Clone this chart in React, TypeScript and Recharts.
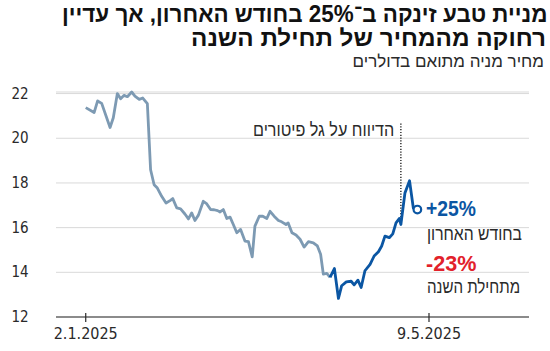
import React, { useLayoutEffect, useRef, useState } from "react";
import {
  LineChart,
  Line,
  XAxis,
  YAxis,
  CartesianGrid,
  ReferenceLine,
} from "recharts";

// days since 2.1.2025
const days: number[] = [
  0, 3.1, 4.4, 5.9, 9.0, 10.2, 11.7, 12.9, 14.2, 15.4, 17.0, 18.2, 19.8, 21.1,
  22.8, 24.0, 25.3, 26.5, 28.1, 29.7, 31.2, 32.2, 33.7, 35.1, 36.7, 38.0, 39.2,
  40.4, 41.7, 43.5, 44.8, 46.2, 47.5, 48.8, 49.7, 50.9, 52.2, 53.4, 54.6, 55.9,
  57.3, 58.9, 60.2, 61.6, 62.6, 64.2, 65.5, 67.0, 68.2, 69.7, 71.3, 72.5, 74.1,
  74.9, 76.3, 77.8, 79.3, 80.8, 82.4, 84.2, 85.7, 86.9, 87.9, 89.2, 90.4, 92.0,
  93.5, 94.7, 96.4, 98.2, 99.3, 100.7, 101.9, 103.3, 105.2, 106.7, 108.3, 109.5,
  110.7, 112.3, 113.6, 114.8, 116.0, 116.6, 118.1, 119.8, 121.2, 122.7,
];
const prices: number[] = [
  21.37, 21.15, 21.67, 21.56, 20.48, 20.92, 22.0, 21.77, 21.92, 21.86, 22.07,
  21.89, 21.74, 21.8, 21.55, 18.59, 17.92, 17.77, 17.4, 17.1, 17.21, 17.3, 16.88,
  16.84, 16.61, 16.39, 16.66, 16.32, 16.56, 17.18, 17.06, 16.81, 16.8, 16.76,
  16.7, 16.81, 16.41, 16.47, 16.14, 15.77, 15.92, 15.4, 15.37, 14.69, 16.07,
  16.51, 16.51, 16.41, 16.73, 16.51, 16.32, 16.26, 16.14, 16.21, 15.77, 15.67,
  15.48, 15.13, 15.37, 15.32, 15.18, 14.81, 13.92, 13.95, 13.77, 14.17, 12.83,
  13.4, 13.57, 13.6, 13.44, 13.65, 13.32, 14.07, 14.36, 14.73, 14.92, 15.18,
  15.62, 15.55, 15.72, 16.21, 16.41, 16.14, 17.55, 18.1, 16.88, 16.81,
];
// index where the "last month" (blue) segment begins
const splitIndex = 64;
const eventDay = 116.6;
const eventTop = 20.66;
const eventPrice = 16.14;

const yTicks = [12, 14, 16, 18, 20, 22];
const xTicks = [0, 127];
const xTickLabels: Record<number, string> = { 0: "2.1.2025", 127: "9.5.2025" };

const title1 = "מניית טבע זינקה ב־25% בחודש האחרון, אך עדיין";
const title2 = "רחוקה מהמחיר של תחילת השנה";
const subtitle = "מחיר מניה מתואם בדולרים";
const eventLabel = "הדיווח על גל פיטורים";
const monthChange = "+25%";
const monthLabel = "בחודש האחרון";
const yearChange = "-23%";
const yearLabel = "מתחילת השנה";

const data = days.map((d, i) => ({
  day: d,
  past: i <= splitIndex ? prices[i] : null,
  recent: i >= splitIndex ? prices[i] : null,
}));

const FONT = "'Liberation Sans Narrow','DejaVu Sans Condensed','Roboto Condensed',sans-serif";
const HFONT = "'Liberation Sans','DejaVu Sans',sans-serif";
const GREY = "#7d9ab3";
const BLUE = "#0b56a3";
const RED = "#e2212b";
const TEXT = "#2a2a2a";

const YTick = (props: any) => {
  const { y, payload } = props;
  return (
    <text x={20} y={y + 5} textAnchor="middle" fontSize={15} fill={TEXT} fontFamily={FONT}>
      {payload.value}
    </text>
  );
};

const XTick = (props: any) => {
  const { x, y, payload } = props;
  return (
    <g>
      <line x1={x} x2={x} y1={y - 4} y2={y + 5} stroke={TEXT} strokeWidth={1.2} />
      <text x={x} y={y + 22} textAnchor="middle" fontSize={16} fill={TEXT} fontFamily={FONT}>
        {xTickLabels[payload.value]}
      </text>
    </g>
  );
};

const lastIndex = days.length - 1;
const EndDot = (props: any) => {
  const { cx, cy, index } = props;
  if (index !== lastIndex || cx == null || cy == null) return <g key={`d${index}`} />;
  return (
    <circle key={`d${index}`} cx={cx} cy={cy} r={3.8} fill="#fff" stroke={BLUE} strokeWidth={2.2} />
  );
};

type FitProps = {
  text: string;
  width: number;
  side: "left" | "right";
  pos: number;
  top: number;
  fontSize: number;
  bold?: boolean;
  color: string;
  dir: "rtl" | "ltr";
};

function FitText({ text, width, side, pos, top, fontSize, bold, color, dir }: FitProps) {
  const ref = useRef<HTMLSpanElement>(null);
  const [s, setS] = useState(1);
  useLayoutEffect(() => {
    if (ref.current) {
      const w = ref.current.offsetWidth;
      if (w > 0) setS(width / w);
    }
  }, [width, text]);
  const style: React.CSSProperties = {
    position: "absolute",
    top,
    whiteSpace: "nowrap",
    fontFamily: HFONT,
    fontSize,
    fontWeight: bold ? 700 : 400,
    color,
    lineHeight: 1,
    transform: `scaleX(${s})`,
    transformOrigin: side === "right" ? "right center" : "left center",
  };
  (style as any)[side] = pos;
  return (
    <div dir={dir} style={style}>
      <span ref={ref}>{text}</span>
    </div>
  );
}

export default function App() {
  return (
    <div style={{ position: "absolute", left: 0, top: 0, width: 550, height: 351, background: "#fff", overflow: "hidden" }}>
      <FitText text={title1} width={485} side="right" pos={3} top={3} fontSize={23} bold color="#111" dir="rtl" />
      <FitText text={title2} width={355} side="right" pos={4} top={27} fontSize={23} bold color="#111" dir="rtl" />
      <FitText text={subtitle} width={191} side="right" pos={6} top={53} fontSize={17} color={TEXT} dir="rtl" />
      <LineChart
        width={550}
        height={351}
        data={data}
        margin={{ top: 92, right: 21, left: 0, bottom: 4 }}
      >
        <CartesianGrid vertical={false} stroke="#d9d9d9" strokeWidth={1} />
        <XAxis
          dataKey="day"
          type="number"
          domain={[-11, 164]}
          ticks={xTicks}
          height={30}
          tickSize={0}
          tickMargin={0}
          tickLine={false}
          axisLine={{ stroke: TEXT, strokeWidth: 1.2 }}
          tick={<XTick />}
          interval={0}
          allowDataOverflow
        />
        <YAxis
          domain={[12, 22]}
          ticks={yTicks}
          width={56}
          axisLine={false}
          tickLine={false}
          tick={<YTick />}
          interval={0}
        />
        <ReferenceLine
          segment={[
            { x: eventDay, y: eventTop },
            { x: eventDay, y: eventPrice },
          ]}
          stroke="#000"
          strokeWidth={1.2}
          strokeDasharray="1.2 1.6"
        />
        <Line
          dataKey="past"
          stroke={GREY}
          strokeWidth={2.8}
          dot={false}
          isAnimationActive={false}
          connectNulls={false}
          strokeLinejoin="round"
        />
        <Line
          dataKey="recent"
          stroke={BLUE}
          strokeWidth={2.8}
          dot={<EndDot />}
          activeDot={false}
          isAnimationActive={false}
          connectNulls={false}
          strokeLinejoin="round"
        />
      </LineChart>
      <FitText text={eventLabel} width={141} side="right" pos={156} top={121} fontSize={18} color={TEXT} dir="rtl" />
      <FitText text={monthChange} width={50} side="left" pos={426} top={198} fontSize={22} bold color={BLUE} dir="ltr" />
      <FitText text={monthLabel} width={95} side="left" pos={427} top={224} fontSize={19} color={TEXT} dir="rtl" />
      <FitText text={yearChange} width={50} side="left" pos={426} top={253} fontSize={22} bold color={RED} dir="ltr" />
      <FitText text={yearLabel} width={93} side="left" pos={427} top={277} fontSize={19} color={TEXT} dir="rtl" />
    </div>
  );
}
